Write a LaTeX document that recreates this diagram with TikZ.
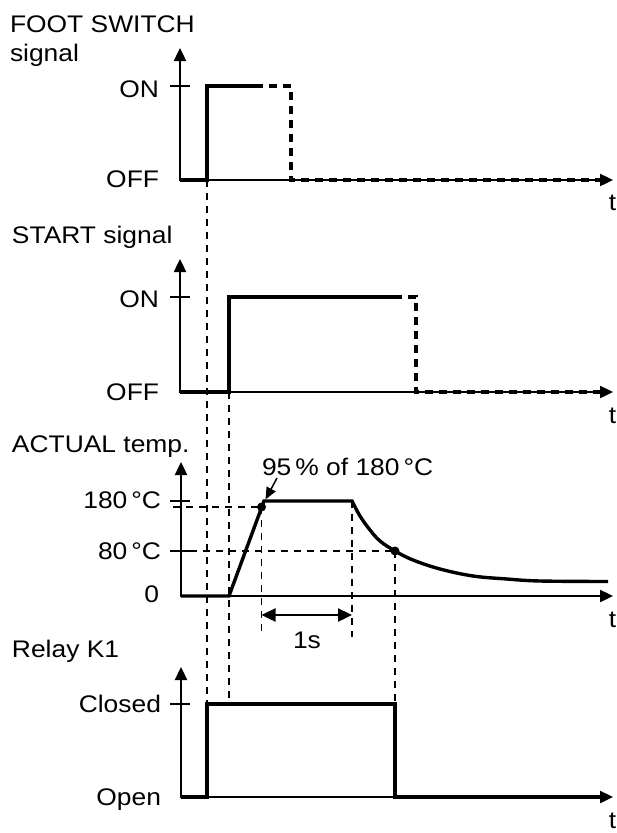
\documentclass[tikz,border=0pt]{standalone}
\usepackage{fontspec}
\setmainfont{Liberation Sans}[FakeStretch=1.1]
\usetikzlibrary{arrows.meta}
\begin{document}
\begin{tikzpicture}[x=1pt,y=-1pt,
  every node/.style={font=\fontsize{24}{28}\selectfont, inner sep=0pt, outer sep=0pt},
  axisline/.style={line width=2.4pt,-{Triangle[length=13pt,width=12pt]}},
  sig/.style={line width=3.4pt, line join=miter},
  sigdash/.style={line width=3.4pt, dash pattern=on 8pt off 6pt, dash phase=8pt},
  guide/.style={line width=1.8pt, dash pattern=on 7pt off 6pt},
  tickline/.style={line width=2pt},
  dotmark/.style={circle, fill, inner sep=0pt, minimum size=9pt},
]
\useasboundingbox (0,0) rectangle (617,833);

% ---------- Panel 1: FOOT SWITCH ----------
\node[anchor=base west] (fs1) at (10,32) {FOOT SWITCH};
\node[anchor=base west] (fs2) at (10,61) {signal};
\coordinate (o1) at (180,180);
\draw[axisline] (180,181.2) -- (180,48);
\draw[axisline] (o1) -- (613,180);
\draw[tickline] (170,86) -- (190,86);
\node[anchor=base east] (on1) at (159,97) {ON};
\node[anchor=base east] (off1) at (159,187) {OFF};
\node[anchor=base] (t1) at (612.5,210) {t};
\draw[sig] (o1) -- (207,180) -- (207,86) -- (263,86);
\draw[sigdash] (263,86) -- (291,86) -- (291,180) -- (601,180);

% ---------- Panel 2: START ----------
\node[anchor=base west] (st) at (12,243) {START signal};
\coordinate (o2) at (180,392);
\draw[axisline] (180,393.2) -- (180,259);
\draw[axisline] (o2) -- (613,392);
\draw[tickline] (170,297) -- (190,297);
\node[anchor=base east] (on2) at (159,307) {ON};
\node[anchor=base east] (off2) at (159,400) {OFF};
\node[anchor=base] (t2) at (612.5,423) {t};
\draw[sig] (o2) -- (229,392) -- (229,297) -- (402,297);
\draw[sigdash] (402,297) -- (416,297) -- (416,392) -- (601,392);

% ---------- Panel 3: ACTUAL temp ----------
\node[anchor=base west] (at) at (12,452) {ACTUAL temp.};
\coordinate (o3) at (181,596);
\draw[axisline] (181,597.2) -- (181,462);
\draw[axisline] (o3) -- (613,596);
\draw[tickline] (170,501) -- (190,501);
\draw[tickline] (170,551) -- (190,551);
\node[anchor=base east] (l180) at (161,508) {180\,°C};
\node[anchor=base east] (l80) at (161,559) {80\,°C};
\node[anchor=base east] (l0) at (159,602) {0};
\node[anchor=base] (t3) at (612.5,627) {t};

\node[dotmark] (d95) at (261.5,507) {};
\node[dotmark] (d80) at (395,551) {};

% guides
\draw[guide] (173,507) -- (d95.center);
\draw[guide] (190,551) -- (d80.center);
\draw[guide] (d95.center) -- (261.5,637);
\draw[guide] (352,501) -- (352,637);
\draw[guide] (d80.center) -- (395,704);
\draw[guide] (207,180) -- (207,704);
\draw[guide] (229,392) -- (229,704);

\draw[sig] (o3) -- (229,596) -- (264,501) -- (352,501)
  -- plot[smooth, tension=0.6] coordinates {(352,501) (360,516) (370,530) (380,541) (395,551) (413,560) (440,569) (473,576) (507,579) (540,581) (608,581.5)};

\node[anchor=base west] (p95) at (262,475) {95\,\% of 180\,°C};
\coordinate (p95tail) at (277,478);
\draw[line width=1.5pt, -{Triangle[length=12pt,width=10pt]}, shorten >=4pt] (p95tail) -- (d95);

\coordinate (s1a) at (261.5,615);
\coordinate (s1b) at (352,615);
\draw[line width=2.4pt, {Triangle[length=14pt,width=13pt]}-{Triangle[length=14pt,width=13pt]}] (s1a) -- (s1b);
\node[anchor=base] (one) at (307,648) {1s};

% ---------- Panel 4: Relay K1 ----------
\node[anchor=base west] (rk) at (12,657) {Relay K1};
\coordinate (o4) at (181,797);
\draw[axisline] (181,798.2) -- (181,667);
\draw[axisline] (o4) -- (613,797);
\draw[tickline] (170,704) -- (190,704);
\node[anchor=base east] (cl) at (161,712) {Closed};
\node[anchor=base east] (op) at (161,805) {Open};
\node[anchor=base] (t4) at (612.5,828) {t};
\draw[sig] (o4) -- (207,797) -- (207,704) -- (395,704) -- (395,797) -- (601,797);
\end{tikzpicture}
\end{document}
